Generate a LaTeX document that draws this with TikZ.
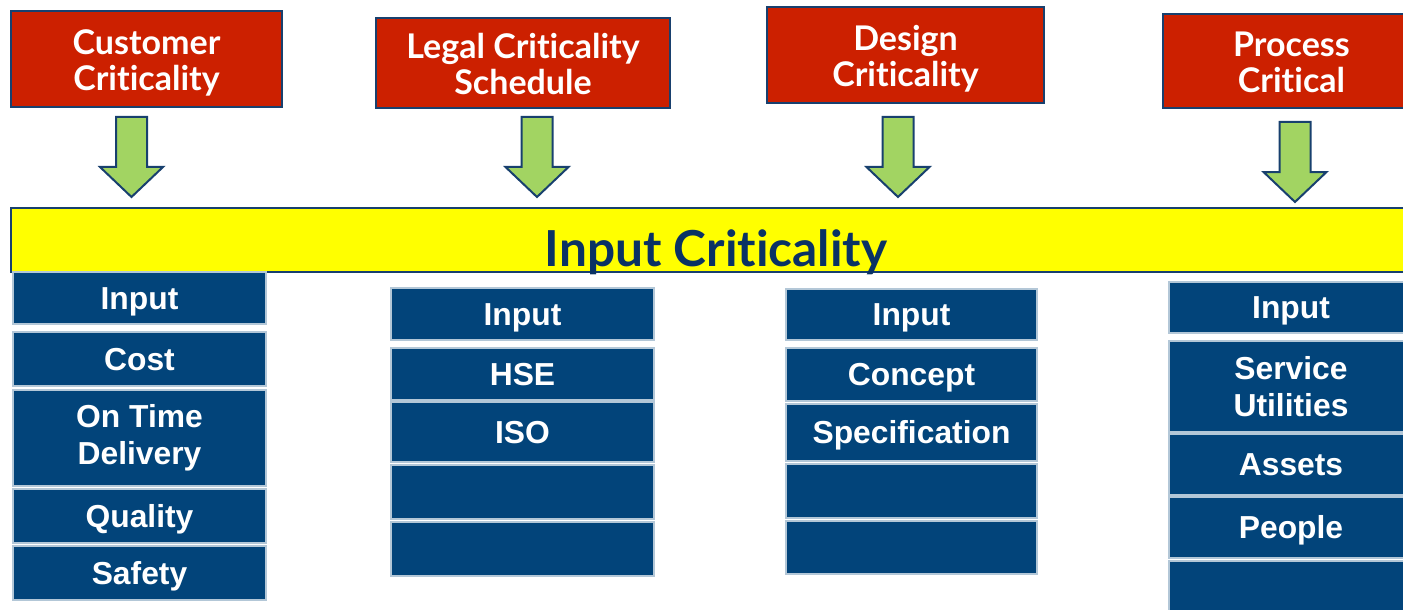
\documentclass[tikz,border=0pt]{standalone}
\usepackage{fontspec}
\setmainfont{Liberation Sans}
\newfontfamily\gillfont[Ligatures=NoCommon]{Lato}

\definecolor{critred}{RGB}{204,32,0}
\definecolor{inblue}{RGB}{2,68,122}
\definecolor{edgeblue}{RGB}{24,64,110}
\definecolor{feedgreen}{RGB}{162,212,98}
\definecolor{titleblue}{RGB}{10,50,100}
\definecolor{bandyellow}{RGB}{255,255,0}

\tikzset{
    critbox/.style={draw=edgeblue, line width=1pt, fill=critred, text=white,
        align=center, inner sep=0pt, text height=36pt, text depth=4pt,
        font=\gillfont\bfseries\fontsize{17}{18}\selectfont},
    inbox/.style={draw=white!70!inblue, line width=0.6pt, fill=inblue, text=white,
        align=center, inner sep=0pt,
        font=\bfseries\fontsize{15.9}{18.5}\selectfont},
    oneline/.style={text height=14.6pt, text depth=3.2pt},
    band/.style={draw=edgeblue, line width=1pt, fill=bandyellow, inner sep=0pt},
    feed/.style={draw=edgeblue, line width=1pt, fill=feedgreen, line join=miter}
}

% block arrow pointing down, top centre at (#1,#2)
\newcommand{\feedarrow}[2]{%
    \draw[feed, shift={(#1,#2)}] (-15.5,0) -- (15.5,0) -- (15.5,50) -- (31.5,50)
        -- (0,80) -- (-31.5,50) -- (-15.5,50) -- cycle;}

\begin{document}
\begin{tikzpicture}[x=0.5pt, y=-0.5pt]
    \useasboundingbox (0,0) rectangle (1403,610);

    % criticality sources
    \node[critbox, minimum width=135.5pt, minimum height=48pt] (cust) at (146.5,59) {Customer\\Criticality};
    \node[critbox, minimum width=147pt, minimum height=45pt] (legal) at (523,63) {Legal Criticality\\Schedule};
    \node[critbox, minimum width=138.5pt, minimum height=48pt] (design) at (905.5,55) {Design\\Criticality};
    \node[critbox, minimum width=128.5pt, minimum height=47pt] (proc) at (1291.5,61) {Process\\Critical};

    \feedarrow{131.5}{117}
    \feedarrow{537}{117}
    \feedarrow{898}{117}
    \feedarrow{1295}{122}

    % input band
    \node[band, minimum width=699.5pt, minimum height=32pt] (band) at (710.5,240) {};
    \node[anchor=base, text=titleblue, inner sep=0pt,
        font=\gillfont\bfseries\fontsize{24.8}{28}\selectfont] (bandtitle) at (716,266) {Input Criticality};

    % 1. Customer
    \begin{scope}[shift={(139.5,0)}, every node/.append style={inbox, minimum width=126.5pt}]
    \node[oneline, minimum height=26pt] (c1) at (0,298) {Input};
    \node[oneline, minimum height=27pt] (c2) at (0,359) {Cost};
    \node[minimum height=48pt] (c3) at (0,438) {On Time\\Delivery};
    \node[oneline, minimum height=27pt] (c4) at (0,516) {Quality};
    \node[oneline, minimum height=27pt] (c5) at (0,573) {Safety};
    \end{scope}

    % 2. Legal
    \begin{scope}[shift={(522.5,0)}, every node/.append style={inbox, minimum width=131.5pt}]
    \node[oneline, minimum height=26pt] (l1) at (0,314) {Input};
    \node[oneline, minimum height=26pt] (l2) at (0,374) {HSE};
    \node[oneline, minimum height=30pt] (l3) at (0,432) {ISO};
    \node[minimum height=27pt] (l4) at (0,492) {};
    \node[minimum height=27pt] (l5) at (0,549) {};
    \end{scope}

    % 3. Design
    \begin{scope}[shift={(911.5,0)}, every node/.append style={inbox, minimum width=125.5pt}]
    \node[oneline, minimum height=25.5pt] (d1) at (0,314.5) {Input};
    \node[oneline, minimum height=26.5pt] (d2) at (0,374.5) {Concept};
    \node[oneline, minimum height=28.5pt] (d3) at (0,432.5) {Specification};
    \node[minimum height=27pt] (d4) at (0,491) {};
    \node[minimum height=26.5pt] (d5) at (0,547.5) {};
    \end{scope}

    % 4. Process
    \begin{scope}[shift={(1291,0)}, every node/.append style={inbox, minimum width=122pt}]
    \node[oneline, minimum height=25.5pt] (p1) at (0,307.5) {Input};
    \node[minimum height=45.5pt] (p2) at (0,386.5) {Service\\Utilities};
    \node[oneline, minimum height=30.5pt] (p3) at (0,464.5) {Assets};
    \node[oneline, minimum height=30.5pt] (p4) at (0,527.5) {People};
    \node[minimum height=29.5pt] (p5) at (0,590.5) {};
    \end{scope}
\end{tikzpicture}
\end{document}
